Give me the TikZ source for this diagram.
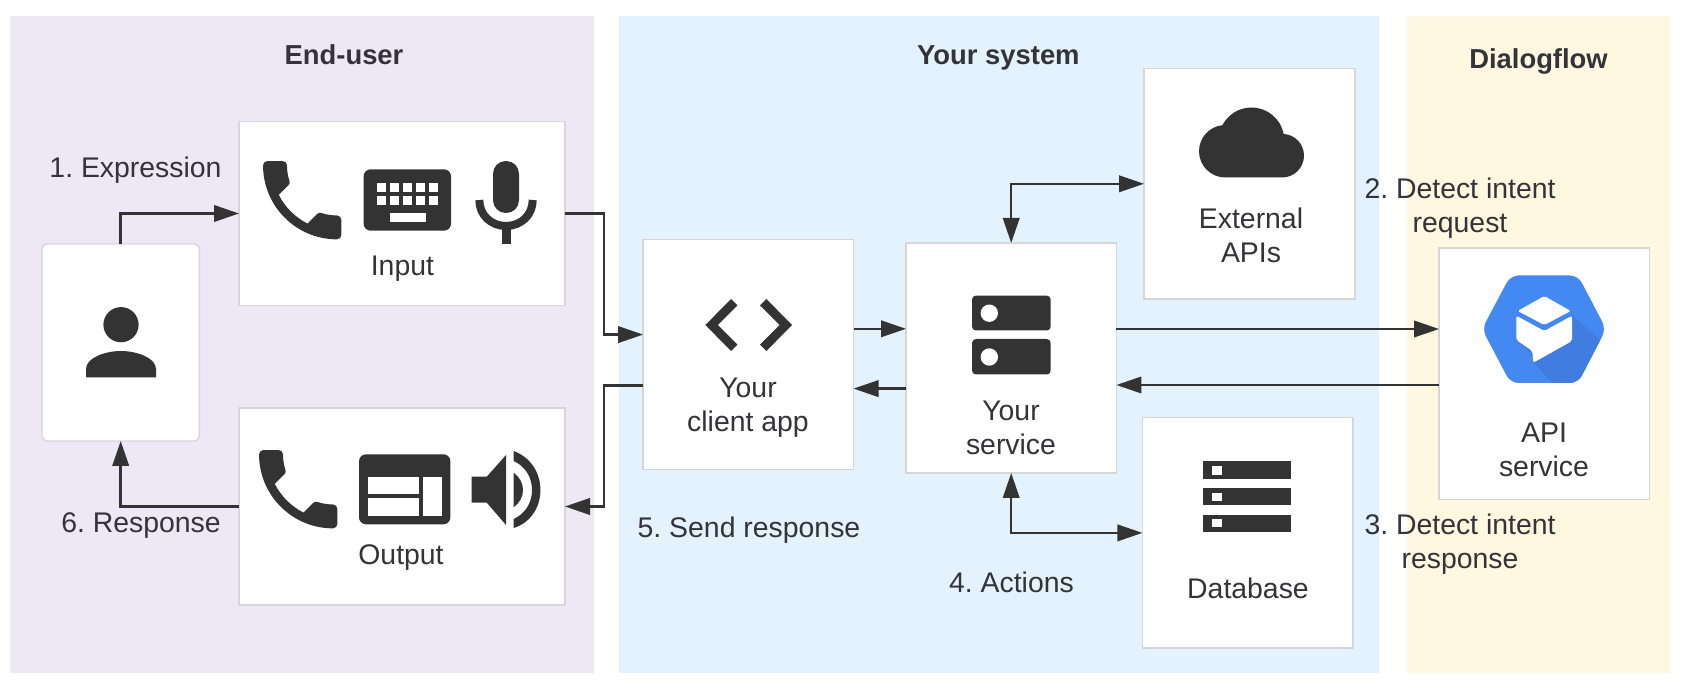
\documentclass[tikz,border=0pt]{standalone}
\usepackage{fontspec}
\setmainfont{Liberation Sans}
\frenchspacing
\usetikzlibrary{arrows.meta}
\definecolor{ink}{HTML}{333333}
\definecolor{txt}{HTML}{333339}
\definecolor{boxline}{HTML}{D6D6DA}
\definecolor{panelA}{HTML}{EDE7F6}
\definecolor{panelB}{HTML}{E3F2FD}
\definecolor{panelC}{HTML}{FFF8E1}
\definecolor{gblue}{HTML}{4488F2}
\definecolor{gshade}{HTML}{417DE0}
\tikzset{
  wbox/.style={draw=boxline,line width=.7pt,fill=white,inner sep=0pt,outer sep=0pt},
  conn/.style={draw=ink,line width=1.25pt,-{Triangle[length=12.5pt,width=8.2pt]}},
  bconn/.style={draw=ink,line width=1.25pt,{Triangle[length=12.5pt,width=8.2pt]}-{Triangle[length=12.5pt,width=8.2pt]}},
  lbl/.style={inner sep=0pt,outer sep=0pt,anchor=base,text=txt,align=center,font=\fontsize{14.2pt}{17pt}\selectfont},
  head/.style={inner sep=0pt,outer sep=0pt,anchor=base,text=txt,font=\fontsize{13.7pt}{17pt}\selectfont\bfseries},
  iconat/.style n args={3}{shift={(#1,#2)},x=#3*0.5pt,y=-#3*0.5pt}
}
\newcommand{\phoneglyph}[2]{%
\begin{scope}[iconat={#1}{#2}{4.35}]
\fill[ink] (6.62,10.79) .. controls (8.06,13.62) and (10.38,15.93) .. (13.21,17.38) -- (15.41,15.18)
 .. controls (15.68,14.91) and (16.08,14.82) .. (16.43,14.94)
 .. controls (17.55,15.31) and (18.76,15.51) .. (20,15.51)
 .. controls (20.55,15.51) and (21,15.96) .. (21,16.51) -- (21,20)
 .. controls (21,20.55) and (20.55,21) .. (20,21)
 .. controls (10.61,21) and (3,13.39) .. (3,4)
 .. controls (3,3.45) and (3.45,3) .. (4,3) -- (7.5,3)
 .. controls (8.05,3) and (8.5,3.45) .. (8.5,4)
 .. controls (8.5,5.25) and (8.7,6.45) .. (9.07,7.57)
 .. controls (9.18,7.92) and (9.10,8.31) .. (8.82,8.59) -- cycle;
\end{scope}}
\begin{document}
\begin{tikzpicture}[x=0.5pt,y=-0.5pt]
\useasboundingbox (0,0) rectangle (1686,694);
\fill[white] (0,0) rectangle (1686,694);
% panels
\fill[panelA] (10.3,16.4) rectangle (594,673);
\fill[panelB] (618.6,16.4) rectangle (1379,673);
\fill[panelC] (1407,16.4) rectangle (1670,673);
% boxes
\node[wbox,rounded corners=2.5pt,minimum width=78.7pt,minimum height=98.5pt] (user) at (120.7,342.5) {};
\node[wbox,minimum width=163pt,minimum height=91.8pt] (input) at (402,213.5) {};
\node[wbox,minimum width=163pt,minimum height=98.5pt] (output) at (402,506.5) {};
\node[wbox,minimum width=105.2pt,minimum height=114.8pt] (client) at (748.3,354.6) {};
\node[wbox,minimum width=105.2pt,minimum height=115pt] (service) at (1011.2,358) {};
\node[wbox,minimum width=105.5pt,minimum height=115.2pt] (external) at (1249.5,183.8) {};
\node[wbox,minimum width=105.2pt,minimum height=115.2pt] (database) at (1247.6,532.9) {};
\node[wbox,minimum width=105.2pt,minimum height=125.7pt] (api) at (1544.2,373.8) {};
% connectors
\draw[conn] (user.north) |- (input.west);
\draw[conn] (input.east) -- ++(39,0) |- ([yshift=10pt]client.west);
\draw[conn] ([yshift=-15.4pt]client.west) -- ++(-39,0) |- (output.east);
\draw[conn] (output.west) -| (user.south);
\draw[conn] ([yshift=12.9pt]client.east) -- ([yshift=12.9pt]client.east -| service.west);
\draw[conn] ([yshift=-15.3pt]service.west) -- ([yshift=-15.3pt]service.west -| client.east);
\draw[conn] ([yshift=14.5pt]service.east) -- ([yshift=14.5pt]service.east -| api.west);
\draw[conn] ([yshift=-5.6pt]api.west) -- ([yshift=-5.6pt]api.west -| service.east);
\draw[bconn] (service.north) |- (external.west);
\draw[bconn] (service.south) |- (database.west);
% person
\fill[ink] (121,324.7) circle (17.6);
\fill[ink] (86,377.3) -- (86,369) .. controls (86,358) and (105,351) .. (121,351) .. controls (137,351) and (156,358) .. (156,369) -- (156,377.3) -- cycle;
% phones
\phoneglyph{250}{148}
\phoneglyph{246}{437}
% keyboard
\fill[ink,rounded corners=3.5pt] (363.6,169.3) rectangle (451,230.7);
\foreach \kx in {377,390,403,416,429}{
  \fill[white] (\kx,182.7) rectangle ++(9.2,9.3);
  \fill[white] (\kx,195.7) rectangle ++(9.2,9);
}
\fill[white] (389.6,213.3) rectangle (425.6,222.3);
% microphone
\fill[ink,rounded corners=6.4pt] (493,161) rectangle (519,213);
\draw[ink,line width=4pt] (479.3,200) .. controls (479.3,215) and (491,226) .. (506,226) .. controls (521,226) and (532.7,215) .. (532.7,200);
\fill[ink] (501.5,225) rectangle (510.5,244);
% window
\fill[ink,rounded corners=3.5pt] (359,454.3) rectangle (450.4,524.3);
\fill[white] (367.8,476.7) rectangle (418.7,494);
\fill[white] (367.8,498) rectangle (418.7,516);
\fill[white] (423,476.7) rectangle (442,516);
% speaker
\fill[ink] (471.5,476.7) -- (486.8,476.7) -- (506,455) -- (506,525) -- (486.8,502.7) -- (471.5,502.7) -- cycle;
\fill[ink] (513.6,472.7) .. controls (519.5,477) and (523,483) .. (523,490) .. controls (523,497) and (519.5,503) .. (513.6,507.3) -- cycle;
\fill[ink] (513.6,451) .. controls (530,457) and (540.4,472) .. (540.4,490) .. controls (540.4,508) and (530,523) .. (513.6,528) -- (513.6,519) .. controls (525,514) and (532,503) .. (532,490) .. controls (532,477) and (525,466) .. (513.6,461) -- cycle;
% code
\fill[ink] (731,299) -- (737.4,305.4) -- (717.8,325) -- (737.4,344.6) -- (731,351) -- (705.4,325) -- cycle;
\fill[ink] (766.4,299) -- (760,305.4) -- (779.6,325) -- (760,344.6) -- (766.4,351) -- (792,325) -- cycle;
% server
\fill[ink,rounded corners=2pt] (972,295.6) rectangle (1050.7,330.5);
\fill[ink,rounded corners=2pt] (972,339) rectangle (1050.7,374.5);
\fill[white] (989.3,313.2) circle (8.7);
\fill[white] (989.3,357) circle (8.7);
% cloud
\begin{scope}[iconat={1199}{90}{4.375}]
\fill[ink] (19.35,10.04) .. controls (18.67,6.59) and (15.64,4) .. (12,4)
 .. controls (9.11,4) and (6.6,5.64) .. (5.35,8.04)
 .. controls (2.34,8.36) and (0,10.91) .. (0,14)
 .. controls (0,17.31) and (2.69,20) .. (6,20) -- (19,20)
 .. controls (21.76,20) and (24,17.76) .. (24,15)
 .. controls (24,12.36) and (21.95,10.22) .. (19.35,10.04) -- cycle;
\end{scope}
% database
\fill[ink] (1203.4,461.5) rectangle (1291.3,478.8);
\fill[ink] (1203.4,488.5) rectangle (1291.3,505);
\fill[ink] (1203.4,514.6) rectangle (1291.3,531.9);
\fill[white] (1212.3,466.4) rectangle (1221.5,474.8);
\fill[white] (1212.3,493) rectangle (1221.5,501);
\fill[white] (1212.3,519) rectangle (1221.5,527.4);
% hexagon
\begin{scope}
\path[clip,rounded corners=4pt] (1482,329) -- (1510.5,275.5) -- (1578,275.5) -- (1606,329) -- (1578,383) -- (1510.5,383) -- cycle;
\fill[gblue] (1480,270) rectangle (1610,390);
\fill[gshade] (1571.7,315) -- (1610,348) -- (1610,390) -- (1560,390) -- (1533,362.3) -- cycle;
\fill[gshade] (1516.3,340) -- (1532.3,351) -- (1540,362) -- cycle;
\end{scope}
\fill[white,rounded corners=1pt] (1544.3,296) -- (1570.7,311) -- (1544.3,325) -- (1517.7,311) -- cycle;
\fill[white,rounded corners=1pt] (1516.3,315.7) -- (1544.3,331) -- (1572,315.7) -- (1572,341) -- (1533.3,362.7) -- (1532.3,351) -- (1516.3,340) -- cycle;
% headings
\node[head] (h1) at (344,65) {End-user};
\node[head] (h2) at (998.4,65) {Your system};
\node[head] (h3) at (1538.5,69) {Dialogflow};
% labels
\node[lbl] (l1) at (135.5,178) {1. Expression};
\node[lbl] (l6) at (141,533) {6. Response};
\node[lbl] (tin) at (402.4,275.7) {Input};
\node[lbl] (tout) at (401,565) {Output};
\node[lbl] (tclient) at (748,432) {Your\\client app};
\node[lbl] (tservice) at (1011,454.5) {Your\\service};
\node[lbl] (l5) at (749,537.5) {5. Send response};
\node[lbl] (l4) at (1011.5,593) {4. Actions};
\node[lbl] (text) at (1251,263) {External\\APIs};
\node[lbl] (l2) at (1460,233) {2. Detect intent\\request};
\node[lbl] (l3) at (1460,568.5) {3. Detect intent\\response};
\node[lbl] (tapi) at (1544,476.5) {API\\service};
\node[lbl] (tdb) at (1248,598.7) {Database};
\end{tikzpicture}
\end{document}
